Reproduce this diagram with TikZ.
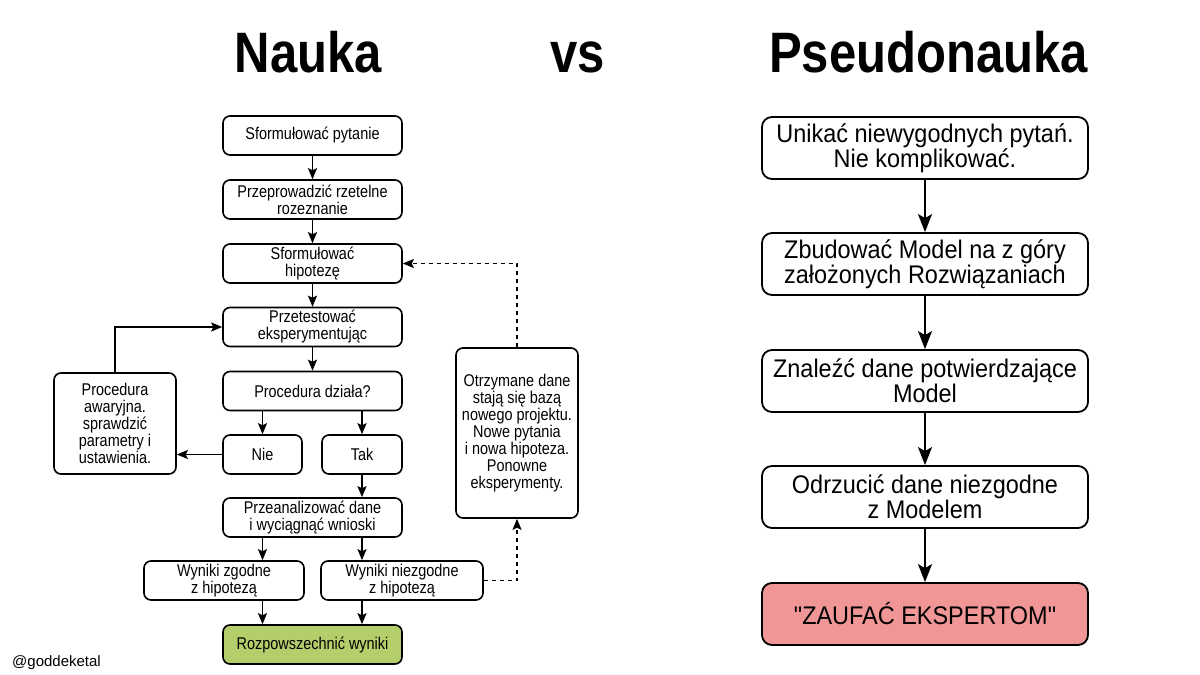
\documentclass[tikz,border=0pt]{standalone}
\usepackage{fontspec}
\setmainfont{Liberation Sans}
\newfontfamily\lfont{Liberation Sans}[FakeStretch=0.85]
\newfontfamily\rfont{Liberation Sans}[FakeStretch=0.92]
\newfontfamily\tfont{Liberation Sans}[FakeStretch=0.86]
\usetikzlibrary{arrows.meta}
\definecolor{boxgreen}{RGB}{181,206,108}
\definecolor{boxpink}{RGB}{240,150,150}
\tikzset{
  lbox/.style={draw, line width=1.6pt, rounded corners=7pt, minimum width=179pt, minimum height=39pt,
    inner sep=0pt, align=center, font=\lfont\fontsize{17}{17}\selectfont},
  rbox/.style={draw, line width=1.8pt, rounded corners=10pt, minimum width=326pt, minimum height=62pt,
    inner sep=0pt, align=center, font=\rfont\fontsize{25.5}{22}\selectfont},
  larr/.style={-{Stealth[length=11pt,width=9pt,inset=2pt]}, line width=1.4pt},
  darr/.style={larr, dash pattern=on 4pt off 4pt},
  rarr/.style={-{Stealth[length=18pt,width=14pt,inset=4pt]}, line width=1.6pt},
  title/.style={anchor=base, font=\tfont\bfseries\fontsize{57}{60}\selectfont}
}
\begin{document}
\begin{tikzpicture}[x=1pt,y=-1pt]
\useasboundingbox (0,0) rectangle (1200,675);
\fill[white] (0,0) rectangle (1200,675);

% titles
\node[title] (tn) at (308.5,72) {Nauka};
\node[title] (tv) at (578,72) {vs};
\node[title] (tp) at (928.5,72) {Pseudonauka};

% left flowchart
\node[lbox] (q1) at (312.5,135.5) {Sformułować pytanie};
\node[lbox] (q2) at (312.5,199.5) {Przeprowadzić rzetelne\\rozeznanie};
\node[lbox] (q3) at (312.5,263.5) {Sformułować\\hipotezę};
\node[lbox] (q4) at (312.5,327) {Przetestować\\eksperymentując};
\node[lbox] (q5) at (312.5,391) {Procedura działa?};
\node[lbox, minimum width=79pt] (nie) at (262.5,454.5) {Nie};
\node[lbox, minimum width=80pt] (tak) at (362,454.5) {Tak};
\node[lbox] (anal) at (312.5,517.5) {Przeanalizować dane\\i wyciągnąć wnioski};
\node[lbox, minimum width=160pt] (wz) at (224,580.5) {Wyniki zgodne\\z hipotezą};
\node[lbox, minimum width=162pt] (wn) at (402,580.5) {Wyniki niezgodne\\z hipotezą};
\node[lbox, fill=boxgreen] (roz) at (312.5,644.5) {Rozpowszechnić wyniki};
\node[lbox, minimum width=122pt, minimum height=101pt] (awar) at (115,423.5)
  {Procedura\\awaryjna.\\sprawdzić\\parametry i\\ustawienia.};
\node[lbox, minimum width=122pt, minimum height=170pt] (otrz) at (517,433)
  {Otrzymane dane\\stają się bazą\\nowego projektu.\\Nowe pytania\\i nowa hipoteza.\\Ponowne\\eksperymenty.};

\draw[larr] (q1) -- (q2);
\draw[larr] (q2) -- (q3);
\draw[larr] (q3) -- (q4);
\draw[larr] (q4) -- (q5);
\draw[larr] (q5.south -| nie.north) -- (nie.north);
\draw[larr] (q5.south -| tak.north) -- (tak.north);
\draw[larr] (tak.south) -- (anal.north -| tak.south);
\draw[larr] (anal.south -| nie.south) -- (wz.north -| nie.south);
\draw[larr] (anal.south -| tak.south) -- (wn.north -| tak.south);
\draw[larr] (wz.south -| nie.south) -- (roz.north -| nie.south);
\draw[larr] (wn.south -| tak.south) -- (roz.north -| tak.south);
\draw[larr] (nie.west) -- (nie.west -| awar.east);
\draw[larr] (awar.north) |- (q4.west);
\draw[darr] (wn.east) -| (otrz.south);
\draw[darr] (otrz.north) |- (q3.east);

% right flowchart
\node[rbox] (r1) at (925,148) {Unikać niewygodnych pytań.\\Nie komplikować.};
\node[rbox] (r2) at (925,264) {Zbudować Model na z góry\\założonych Rozwiązaniach};
\node[rbox] (r3) at (925,381) {Znaleźć dane potwierdzające\\Model};
\node[rbox] (r4) at (925,497) {Odrzucić dane niezgodne\\z Modelem};
\node[rbox, fill=boxpink] (r5) at (925,614) {"ZAUFAĆ EKSPERTOM"};
\draw[rarr] (r1) -- (r2);
\draw[rarr] (r2) -- (r3);
\draw[rarr] (r3) -- (r4);
\draw[rarr] (r4) -- (r5);

% credit
\node[anchor=base west, inner sep=0pt, font=\fontsize{15}{17}\selectfont] (cred) at (12,666) {@goddeketal};
\end{tikzpicture}
\end{document}
